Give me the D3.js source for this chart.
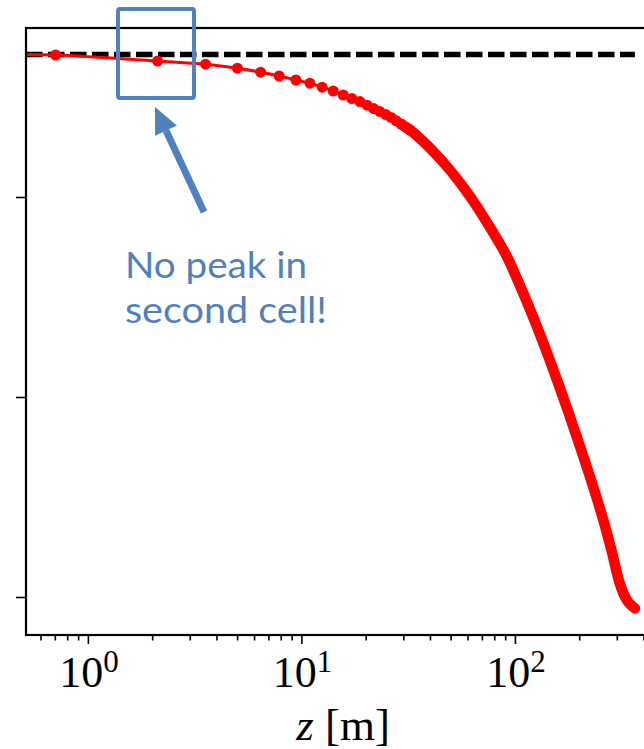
<!DOCTYPE html>
<html>
<head>
<meta charset="utf-8">
<script src="https://cdn.jsdelivr.net/npm/d3@7"></script>
<style>
  html, body { margin: 0; padding: 0; background: #fff; }
  svg { display: block; }
</style>
</head>
<body>
<script>
// ---- data ----
// discrete cell markers (z in m, y in axis units, ticks at 0,1,2)
const zMarkers = [0.706, 2.121, 3.559, 5.014, 6.441, 7.870, 9.424, 10.96, 12.51, 14.09, 15.70, 17.24, 18.79,
                  20.3, 21.8, 23.3, 24.8, 26.3, 27.8, 29.3, 30.8, 32.3];
const yMarkers = [2.710, 2.680, 2.664, 2.644, 2.624, 2.605, 2.585, 2.569, 2.549, 2.530, 2.510, 2.492, 2.477,
                  2.459, 2.442, 2.427, 2.413, 2.398, 2.381, 2.365, 2.349, 2.335];
// dense part of the curve where markers merge into a band
const zDense = [39.99, 49.61, 61.54, 76.36, 91.45, 105.5, 121.8, 140.8, 159.5, 177.7, 205.3, 232.7, 259.2, 283.8, 310.3, 331.2, 345.6, 364.8];
const yDense = [2.245, 2.135, 2.004, 1.849, 1.705, 1.558, 1.399, 1.226, 1.068, 0.926, 0.728, 0.550, 0.386, 0.230, 0.065, -0.008, -0.035, -0.057];
// line start (left of axis, clipped)
const zStart = [0.5];
const yStart = [2.713];
// reference (dashed) level
const refLevel = 2.7125;
// ticks
const xMajor = [1, 10, 100];
const xMajorExp = ["0", "1", "2"];
const xMinor = [0.6, 0.7, 0.8, 0.9, 2, 3, 4, 5, 6, 7, 8, 9, 20, 30, 40, 50, 60, 70, 80, 90, 200, 300, 400];
const yTicks = [0, 1, 2];
const xLabelMain = "z";
const xLabelUnit = " [m]";
const noteLines = ["No peak in", "second cell!"];

// ---- layout ----
const W = 644, H = 749;
const L = 26, R = 660, T = 28, B = 635;
const blue = "#4F81BD";
const red = "#ff0000";

const svg = d3.select("body").append("svg").attr("width", W).attr("height", H);

const x = d3.scaleLog().domain([0.513, 478]).range([L, R]);
const y = d3.scaleLinear().domain([-0.19, 2.845]).range([B, T]);

svg.append("defs").append("clipPath").attr("id", "plotclip")
  .append("rect").attr("x", L).attr("y", T).attr("width", R - L).attr("height", B - T);

const plot = svg.append("g").attr("clip-path", "url(#plotclip)");

// dashed reference line, from axis start to end of data
plot.append("line")
  .attr("x1", x(0.513)).attr("x2", x(zDense[zDense.length - 1]))
  .attr("y1", y(refLevel)).attr("y2", y(refLevel))
  .attr("stroke", "#000").attr("stroke-width", 5.5)
  .attr("stroke-dasharray", "16.5,5.5");

// thin red line through all points
const allZ = zStart.concat(zMarkers, zDense);
const allY = yStart.concat(yMarkers, yDense);
const pts = allZ.map((z, i) => [z, allY[i]]);
const line = d3.line().x(d => x(d[0])).y(d => y(d[1])).curve(d3.curveCatmullRom.alpha(0.5));
plot.append("path").attr("d", line(pts))
  .attr("fill", "none").attr("stroke", red).attr("stroke-width", 3);

// dense band (overlapping markers)
const nM = zMarkers.length;
const densePts = [[zMarkers[nM - 3], yMarkers[nM - 3]], [zMarkers[nM - 2], yMarkers[nM - 2]], [zMarkers[nM - 1], yMarkers[nM - 1]]]
  .concat(zDense.map((z, i) => [z, yDense[i]]));
plot.append("path").attr("d", line(densePts))
  .attr("fill", "none").attr("stroke", red).attr("stroke-width", 10.5)
  .attr("stroke-linecap", "round").attr("stroke-linejoin", "round");

// discrete markers
plot.selectAll("circle.m").data(zMarkers.map((z, i) => [z, yMarkers[i]]))
  .enter().append("circle").attr("class", "m")
  .attr("cx", d => x(d[0])).attr("cy", d => y(d[1])).attr("r", 5.5)
  .attr("fill", red);

// ---- axes ----
const xAxisMajor = d3.axisBottom(x).tickValues(xMajor).tickSize(9).tickFormat("");
const xAxisMinor = d3.axisBottom(x).tickValues(xMinor).tickSize(5.5).tickFormat("");
const gxM = svg.append("g").attr("transform", `translate(0,${B})`).call(xAxisMajor);
const gxm = svg.append("g").attr("transform", `translate(0,${B})`).call(xAxisMinor);
const yAxis = d3.axisLeft(y).tickValues(yTicks).tickSize(10).tickFormat("");
const gy = svg.append("g").attr("transform", `translate(${L},0)`).call(yAxis);
[gxM, gxm, gy].forEach(g => {
  g.select(".domain").remove();
  g.selectAll(".tick line").attr("stroke", "#000").attr("stroke-width", 1.6);
});

// spines
svg.append("rect").attr("x", L).attr("y", T).attr("width", R - L).attr("height", B - T)
  .attr("fill", "none").attr("stroke", "#000").attr("stroke-width", 2.2);

// tick labels 10^n
const lab = svg.append("g").attr("font-family", "'Liberation Serif', 'Times New Roman', serif").attr("fill", "#000");
xMajor.forEach((v, i) => {
  const t = lab.append("text").attr("x", x(v) + 1).attr("y", 687).attr("text-anchor", "middle")
    .attr("font-size", 44);
  t.append("tspan").text("10");
  t.append("tspan").attr("dy", -15).attr("font-size", 31).text(xMajorExp[i]);
});

// axis title
const xt = lab.append("text").attr("x", 343).attr("y", 740).attr("text-anchor", "middle").attr("font-size", 45);
xt.append("tspan").attr("font-style", "italic").text(xLabelMain);
xt.append("tspan").text(xLabelUnit);

// ---- annotation ----
svg.append("rect").attr("x", 118).attr("y", 9).attr("width", 76).attr("height", 89)
  .attr("rx", 2).attr("fill", "none").attr("stroke", blue).attr("stroke-width", 4);

// arrow
const ax1 = 204, ay1 = 212, ax2 = 155, ay2 = 107;
const ang = Math.atan2(ay2 - ay1, ax2 - ax1);
const headLen = 26, headHalf = 12;
const bx = ax2 - headLen * Math.cos(ang), by = ay2 - headLen * Math.sin(ang);
svg.append("line").attr("x1", ax1).attr("y1", ay1).attr("x2", bx).attr("y2", by)
  .attr("stroke", blue).attr("stroke-width", 7);
svg.append("path")
  .attr("d", `M${ax2},${ay2} L${bx + headHalf * Math.sin(ang)},${by - headHalf * Math.cos(ang)} L${bx - headHalf * Math.sin(ang)},${by + headHalf * Math.cos(ang)} Z`)
  .attr("fill", blue);

const noteWidths = [182, 202];
const note = svg.append("g").attr("font-family", "Lato, 'Open Sans', sans-serif").attr("fill", blue).attr("font-size", 36);
noteLines.forEach((s, i) => {
  note.append("text").attr("x", 125).attr("y", 278 + i * 45)
    .attr("textLength", noteWidths[i]).attr("lengthAdjust", "spacingAndGlyphs").text(s);
});
</script>
</body>
</html>
